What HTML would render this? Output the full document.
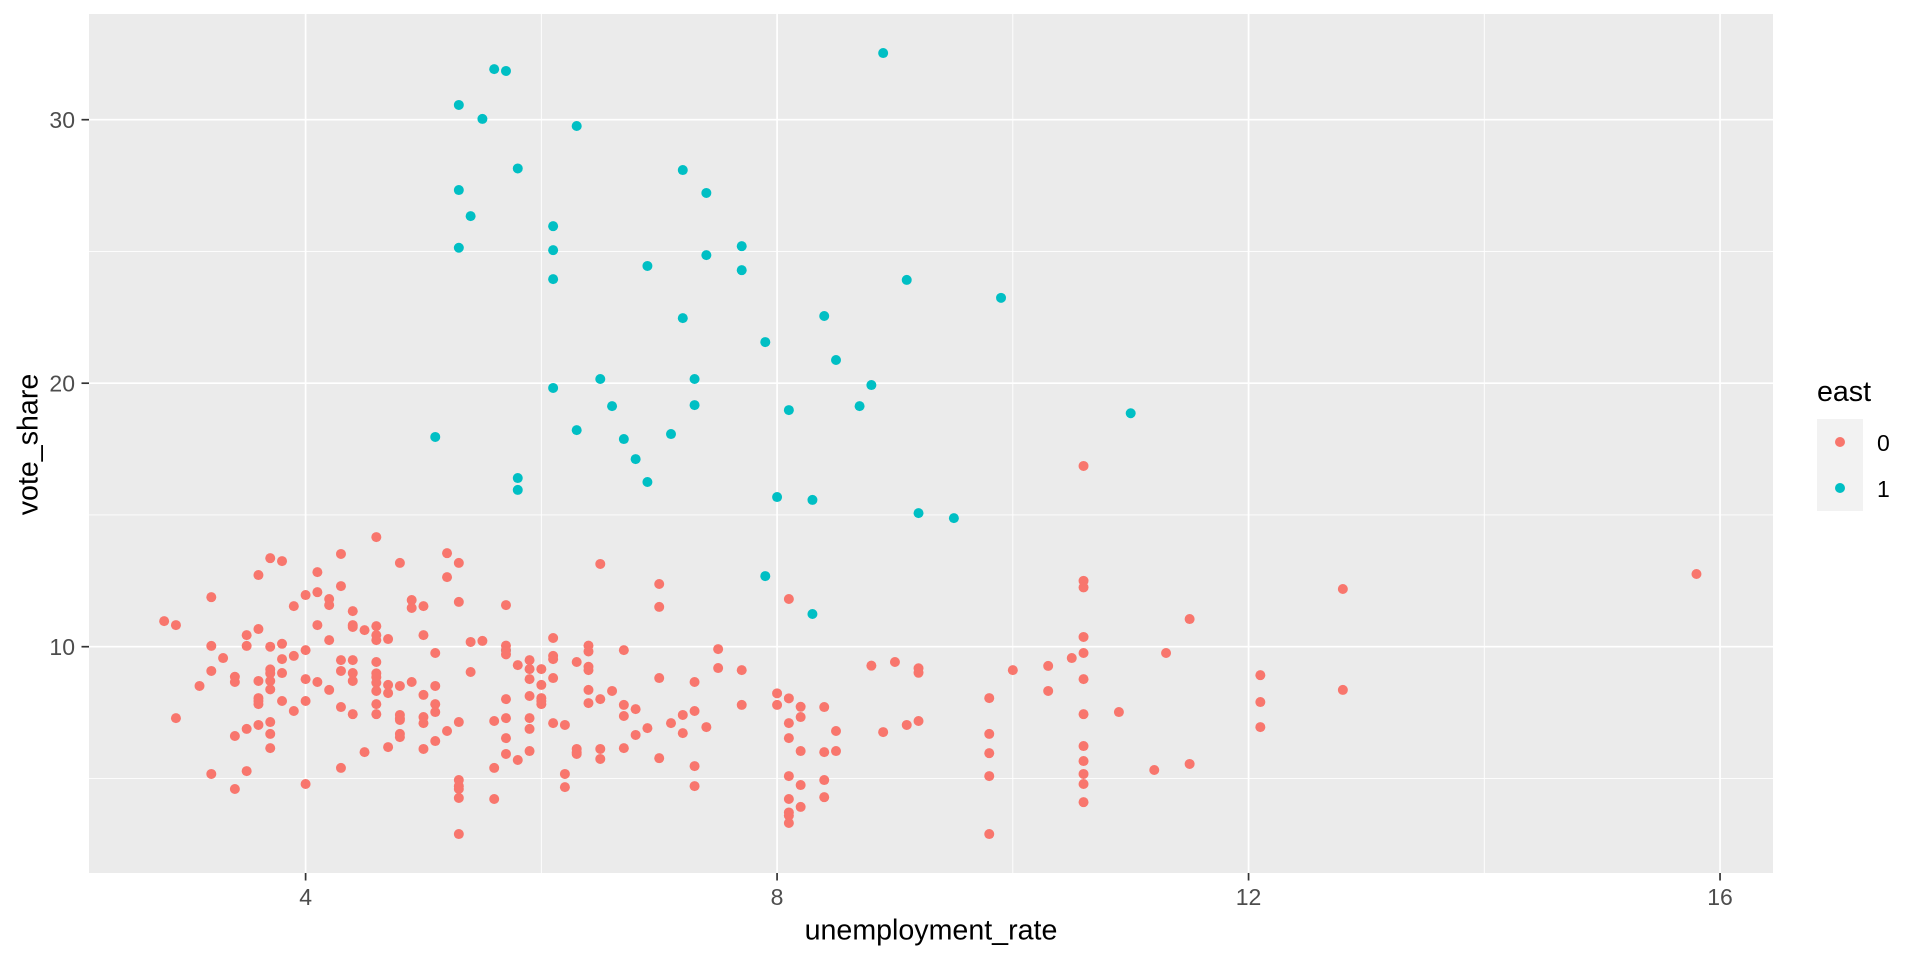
<!DOCTYPE html>
<html lang="en">
<head>
<meta charset="utf-8">
<title>vote_share vs unemployment_rate</title>
<style>
html,body{margin:0;padding:0;background:#fff;width:1920px;height:960px;overflow:hidden}
svg{display:block}
text{font-family:"Liberation Sans",Arial,sans-serif}
</style>
</head>
<body>
<svg id="chart" xmlns="http://www.w3.org/2000/svg" width="1920" height="960" viewBox="0 0 1920 960"></svg>
<script>
const xMajorTicks = [4, 8, 12, 16];
const xMinorTicks = [6, 10, 14];
const yMajorTicks = [10, 20, 30];
const yMinorTicks = [5, 15, 25];
const legendLabels = ['0', '1'];

const east1Points = [
[8.9,32.53],[5.6,31.92],[5.7,31.85],[5.3,30.56],[5.5,30.03],[6.3,29.76],[5.8,28.15],[7.2,28.09],
[7.4,27.22],[5.3,27.33],[5.4,26.34],[6.1,25.96],[5.3,25.14],[6.1,25.05],[7.4,24.86],[7.7,25.2],
[7.7,24.29],[6.9,24.45],[6.1,23.95],[9.1,23.92],[9.9,23.24],[7.2,22.47],[8.4,22.55],[7.9,21.56],
[8.5,20.88],[6.5,20.16],[7.3,20.16],[8.8,19.93],[6.1,19.82],[6.6,19.13],[7.3,19.17],[8.7,19.13],
[8.1,18.98],[11.0,18.86],[6.3,18.22],[5.1,17.96],[7.1,18.07],[6.7,17.88],[6.8,17.12],[5.8,16.4],
[6.9,16.25],[5.8,15.95],[8.0,15.68],[8.3,15.57],[9.2,15.07],[9.5,14.88],[7.9,12.68],[8.3,11.24],
[5.7,9.87]
];

const east0Points = [
[2.8,10.97],[2.9,10.82],[2.9,7.29],[3.1,8.51],[3.2,11.88],[3.2,10.03],[3.2,9.08],[3.2,5.17],
[3.3,9.57],[3.4,8.86],[3.4,8.66],[3.4,6.61],[3.4,4.6],[3.5,10.44],[3.5,10.03],[3.5,6.88],[3.5,5.28],
[3.6,12.72],[3.6,10.67],[3.6,8.7],[3.6,8.05],[3.6,7.94],[3.6,7.82],[3.6,7.03],
[3.7,13.36],[3.7,10.0],[3.7,9.14],[3.7,8.99],[3.7,8.7],[3.7,8.38],[3.7,7.14],[3.7,6.69],[3.7,6.15],
[3.8,13.25],[3.8,10.11],[3.8,9.53],[3.8,9.0],[3.8,7.94],[3.9,11.54],[3.9,9.65],[3.9,7.56],
[4.0,11.96],[4.0,9.87],[4.0,8.77],[4.0,7.94],[4.0,4.79],[4.1,12.83],[4.1,12.07],[4.1,10.82],[4.1,8.66],
[4.2,11.81],[4.2,11.58],[4.2,10.25],[4.2,8.36],[4.3,13.52],[4.3,12.3],[4.3,9.49],[4.3,9.08],[4.3,7.71],[4.3,5.4],
[4.4,11.35],[4.4,10.82],[4.4,10.75],[4.4,9.49],[4.4,9.0],[4.4,8.7],[4.4,7.44],[4.5,10.63],[4.5,6.0],
[4.6,14.16],[4.6,10.78],[4.6,10.44],[4.6,10.25],[4.6,9.42],[4.6,8.99],[4.6,8.84],[4.6,8.63],[4.6,8.32],[4.6,7.82],[4.6,7.44],
[4.7,10.29],[4.7,8.55],[4.7,8.24],[4.7,6.19],[4.8,13.18],[4.8,8.51],[4.8,7.41],[4.8,7.29],[4.8,7.22],[4.8,6.69],[4.8,6.57],
[4.9,11.77],[4.9,11.47],[4.9,8.66],[5.0,11.54],[5.0,10.44],[5.0,8.17],[5.0,7.33],[5.0,7.1],[5.0,6.12],
[5.1,9.76],[5.1,8.51],[5.1,7.82],[5.1,7.52],[5.1,6.42],[5.2,13.55],[5.2,12.64],[5.2,6.8],
[5.3,13.18],[5.3,11.7],[5.3,7.14],[5.3,4.94],[5.3,4.71],[5.3,4.6],[5.3,4.26],[5.3,2.89],
[5.4,10.18],[5.4,9.04],[5.5,10.22],[5.6,7.18],[5.6,5.4],[5.6,4.22],
[5.7,11.58],[5.7,10.04],[5.7,9.87],[5.7,9.71],[5.7,8.01],[5.7,7.29],[5.7,6.53],[5.7,5.93],[5.8,9.3],[5.8,5.7],
[5.9,9.49],[5.9,9.15],[5.9,8.77],[5.9,8.13],[5.9,7.29],[5.9,6.88],[5.9,6.04],
[6.0,9.15],[6.0,8.55],[6.0,8.05],[6.0,7.94],[6.0,7.82],[6.1,10.33],[6.1,9.65],[6.1,9.53],[6.1,8.81],[6.1,7.1],
[6.2,7.03],[6.2,5.17],[6.2,4.67],[6.3,9.42],[6.3,6.12],[6.3,6.0],[6.3,5.93],
[6.4,10.04],[6.4,9.82],[6.4,9.24],[6.4,9.11],[6.4,8.36],[6.4,7.86],[6.5,13.14],[6.5,8.01],[6.5,6.12],[6.5,5.74],
[6.6,8.32],[6.7,9.87],[6.7,7.79],[6.7,7.37],[6.7,6.15],[6.8,7.63],[6.8,6.65],[6.9,6.91],
[7.0,12.38],[7.0,11.51],[7.0,8.81],[7.0,5.77],[7.1,7.1],[7.2,7.41],[7.2,6.72],
[7.3,8.66],[7.3,7.56],[7.3,5.47],[7.3,4.71],[7.4,6.95],[7.5,9.91],[7.5,9.19],[7.7,9.11],[7.7,7.79],
[8.0,8.23],[8.0,7.79],[8.1,11.81],[8.1,8.04],[8.1,7.1],[8.1,6.53],[8.1,5.09],[8.1,4.22],[8.1,3.71],[8.1,3.59],[8.1,3.31],
[8.2,7.72],[8.2,7.33],[8.2,6.04],[8.2,4.75],[8.2,3.92],[8.4,7.71],[8.4,6.0],[8.4,4.94],[8.4,4.29],[8.5,6.8],[8.5,6.04],
[8.8,9.28],[8.9,6.76],[9.0,9.42],[9.1,7.03],[9.2,9.18],[9.2,9.01],[9.2,7.18],
[9.8,8.05],[9.8,6.69],[9.8,5.96],[9.8,5.09],[9.8,2.89],[10.0,9.11],[10.3,9.27],[10.3,8.32],[10.5,9.57],
[10.6,16.86],[10.6,12.5],[10.6,12.25],[10.6,10.37],[10.6,9.76],[10.6,8.77],[10.6,7.44],[10.6,6.23],[10.6,5.66],[10.6,5.17],[10.6,4.79],[10.6,4.1],
[10.9,7.52],[11.2,5.32],[11.3,9.76],[11.5,11.05],[11.5,5.55],[12.1,8.92],[12.1,7.9],[12.1,6.95],[12.8,12.19],[12.8,8.36],[15.8,12.76]
];

const NS = 'http://www.w3.org/2000/svg';
const svg = document.getElementById('chart');
const panel = { left: 89, right: 1773, top: 14, bottom: 873 };
const xScale = v => 305.6 + (v - 4) * 117.87;
const yScale = v => 646.7 - (v - 10) * 26.35;

function make(tag, attrs, text) {
  const el = document.createElementNS(NS, tag);
  for (const k in attrs) el.setAttribute(k, attrs[k]);
  if (text !== undefined) el.textContent = text;
  svg.appendChild(el);
  return el;
}

const bg = make('rect', { x: panel.left, y: panel.top, width: panel.right - panel.left, height: panel.bottom - panel.top, fill: '#EBEBEB' });



yMinorTicks.forEach(t => {
  const l = make('line', { x1: panel.left, x2: panel.right, y1: yScale(t), y2: yScale(t), stroke: '#fff', 'stroke-width': 0.9 });
  
  
});
xMinorTicks.forEach(t => {
  const l = make('line', { x1: xScale(t), x2: xScale(t), y1: panel.top, y2: panel.bottom, stroke: '#fff', 'stroke-width': 0.9 });
  
  
});
yMajorTicks.forEach(t => {
  const l = make('line', { x1: panel.left, x2: panel.right, y1: yScale(t), y2: yScale(t), stroke: '#fff', 'stroke-width': 1.7 });
  
  
  const tick = make('line', { x1: panel.left - 7.5, x2: panel.left, y1: yScale(t), y2: yScale(t), stroke: '#333', 'stroke-width': 1.7 });
  
  
  const lab = make('text', { x: 75, y: yScale(t) + 8.2, 'text-anchor': 'end', 'font-size': 23, fill: '#4D4D4D' }, String(t));
  
  
});
xMajorTicks.forEach(t => {
  const l = make('line', { x1: xScale(t), x2: xScale(t), y1: panel.top, y2: panel.bottom, stroke: '#fff', 'stroke-width': 1.7 });
  
  
  const tick = make('line', { x1: xScale(t), x2: xScale(t), y1: panel.bottom, y2: panel.bottom + 7.5, stroke: '#333', 'stroke-width': 1.7 });
  
  
  const lab = make('text', { x: xScale(t), y: 905, 'text-anchor': 'middle', 'font-size': 23, fill: '#4D4D4D' }, String(t));
  
  
});

east1Points.forEach(p => {
  const c = make('circle', { cx: xScale(p[0]), cy: yScale(p[1]), r: 5, fill: '#00BFC4' });
  
  
});
east0Points.forEach(p => {
  const c = make('circle', { cx: xScale(p[0]), cy: yScale(p[1]), r: 5, fill: '#F8766D' });
  
  
});

const xTitle = make('text', { x: 931, y: 939.5, 'text-anchor': 'middle', 'font-size': 28.6, fill: '#000' }, 'unemployment_rate');



const yTitle = make('text', { transform: 'translate(37.3,444.5) rotate(-90)', 'text-anchor': 'middle', 'font-size': 28.6, fill: '#000' }, 'vote_share');



const legendTitle = make('text', { x: 1817, y: 401, 'font-size': 28.6, fill: '#000' }, 'east');



const legendColors = ['#F8766D', '#00BFC4'];
legendLabels.forEach((label, i) => {
  const top = 419 + i * 46;
  const key = make('rect', { x: 1817, y: top, width: 46, height: 46, fill: '#F2F2F2' });
  
  
  const dot = make('circle', { cx: 1840, cy: top + 23, r: 5, fill: legendColors[i] });
  
  
  const t = make('text', { x: 1877, y: top + 32.2, 'font-size': 23, fill: '#000' }, label);
  
  
});
</script>
</body>
</html>
